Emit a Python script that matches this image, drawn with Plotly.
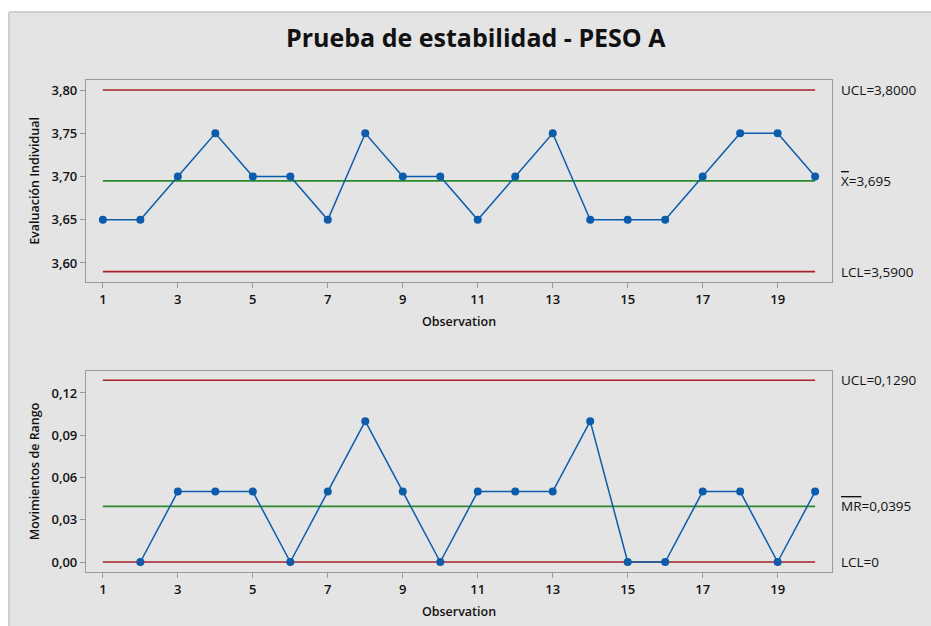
import plotly.graph_objects as go

# Individual observations (PESO A)
observations = list(range(1, 21))
individual = [3.65, 3.65, 3.70, 3.75, 3.70, 3.70, 3.65, 3.75, 3.70, 3.70,
              3.65, 3.70, 3.75, 3.65, 3.65, 3.65, 3.70, 3.75, 3.75, 3.70]
# Moving ranges (first observation has none)
mr_obs = list(range(2, 21))
moving_range = [0.00, 0.05, 0.05, 0.05, 0.00, 0.05, 0.10, 0.05, 0.00, 0.05,
                0.05, 0.05, 0.10, 0.00, 0.00, 0.05, 0.05, 0.00, 0.05]

# Control limits
i_ucl, i_center, i_lcl = 3.8000, 3.695, 3.5900
mr_ucl, mr_center, mr_lcl = 0.1290, 0.0395, 0.0

x_ticks = [1, 3, 5, 7, 9, 11, 13, 15, 17, 19]
i_ticks = [3.60, 3.65, 3.70, 3.75, 3.80]
mr_ticks = [0.00, 0.03, 0.06, 0.09, 0.12]

BLUE = "#0b5cad"
RED = "#a8202a"
GREEN = "#2a8a2a"
FONT = "Open Sans"
W, H = 931, 626

fig = go.Figure()

def limit_line(y, color, xa, ya):
    fig.add_trace(go.Scatter(x=[observations[0], observations[-1]], y=[y, y],
                             mode="lines", line=dict(color=color, width=1.6),
                             xaxis=xa, yaxis=ya, hoverinfo="skip", showlegend=False))

# I chart
limit_line(i_ucl, RED, "x", "y")
limit_line(i_lcl, RED, "x", "y")
limit_line(i_center, GREEN, "x", "y")
fig.add_trace(go.Scatter(x=observations, y=individual, mode="lines+markers",
                         line=dict(color=BLUE, width=1.5),
                         marker=dict(color=BLUE, size=8),
                         xaxis="x", yaxis="y", showlegend=False))

# MR chart
limit_line(mr_ucl, RED, "x2", "y2")
limit_line(mr_lcl, RED, "x2", "y2")
limit_line(mr_center, GREEN, "x2", "y2")
fig.add_trace(go.Scatter(x=mr_obs, y=moving_range, mode="lines+markers",
                         line=dict(color=BLUE, width=1.5),
                         marker=dict(color=BLUE, size=8),
                         xaxis="x2", yaxis="y2", showlegend=False))

x_dom = [86 / W, 832 / W]
top_dom = [1 - 282 / H, 1 - 80 / H]
bot_dom = [1 - 572 / H, 1 - 371 / H]

axis_common = dict(showgrid=False, zeroline=False, showline=True, mirror=True,
                   linecolor="#9a9a9a", linewidth=1.2, ticks="outside",
                   tickcolor="#9a9a9a", ticklen=5,
                   tickfont=dict(family=FONT, size=13, color="#111111", weight=600))

title_font = dict(family=FONT, size=12.5, color="#111111", weight=600)

xaxis_cfg = dict(axis_common, domain=x_dom, range=[0.55, 20.45],
                 tickvals=x_ticks,
                 title=dict(text="Observation", standoff=10, font=title_font))

fig.update_layout(
    width=W, height=H,
    margin=dict(l=0, r=0, t=0, b=0),
    paper_bgcolor="white",
    plot_bgcolor="white",
    separators=",.",
    xaxis=dict(xaxis_cfg, anchor="y"),
    xaxis2=dict(xaxis_cfg, anchor="y2"),
    yaxis=dict(axis_common, domain=top_dom, range=[3.578, 3.8116],
               tickvals=i_ticks, tickformat=".2f", anchor="x",
               title=dict(text="Evaluación Individual", standoff=9, font=title_font)),
    yaxis2=dict(axis_common, domain=bot_dom, range=[-0.0071, 0.1356],
                tickvals=mr_ticks, tickformat=".2f", anchor="x2",
                title=dict(text="Movimientos de Rango", standoff=9, font=title_font)),
    shapes=[
        dict(type="rect", xref="paper", yref="paper", layer="below",
             x0=9 / W, x1=1, y0=0, y1=1 - 12 / H,
             fillcolor="#e4e4e4", line=dict(width=0)),
        dict(type="line", xref="paper", yref="paper", layer="below",
             x0=9 / W, x1=1, y0=1 - 12 / H, y1=1 - 12 / H,
             line=dict(color="#cfcfcf", width=2)),
        dict(type="line", xref="paper", yref="paper", layer="below",
             x0=9 / W, x1=9 / W, y0=0, y1=1 - 12 / H,
             line=dict(color="#cfcfcf", width=2)),
    ],
)

fig.add_annotation(text="<b>Prueba de estabilidad - PESO A</b>",
                   xref="paper", yref="paper", x=476 / W, y=1 - 37 / H,
                   showarrow=False, xanchor="center", yanchor="middle",
                   font=dict(family=FONT, size=25, color="#111111"))

def side_label(text, y, ya):
    fig.add_annotation(text=text, xref="paper", yref=ya, x=839 / W, y=y,
                       xanchor="left", yanchor="middle", showarrow=False,
                       font=dict(family=FONT, size=13.5, color="#111111"))

side_label("UCL=3,8000", i_ucl, "y")
side_label('<span style="text-decoration:overline">X</span>=3,695', i_center, "y")
side_label("LCL=3,5900", i_lcl, "y")
side_label("UCL=0,1290", mr_ucl, "y2")
side_label('<span style="text-decoration:overline">MR</span>=0,0395', mr_center, "y2")
side_label("LCL=0", mr_lcl, "y2")

fig.write_html("out.html")
